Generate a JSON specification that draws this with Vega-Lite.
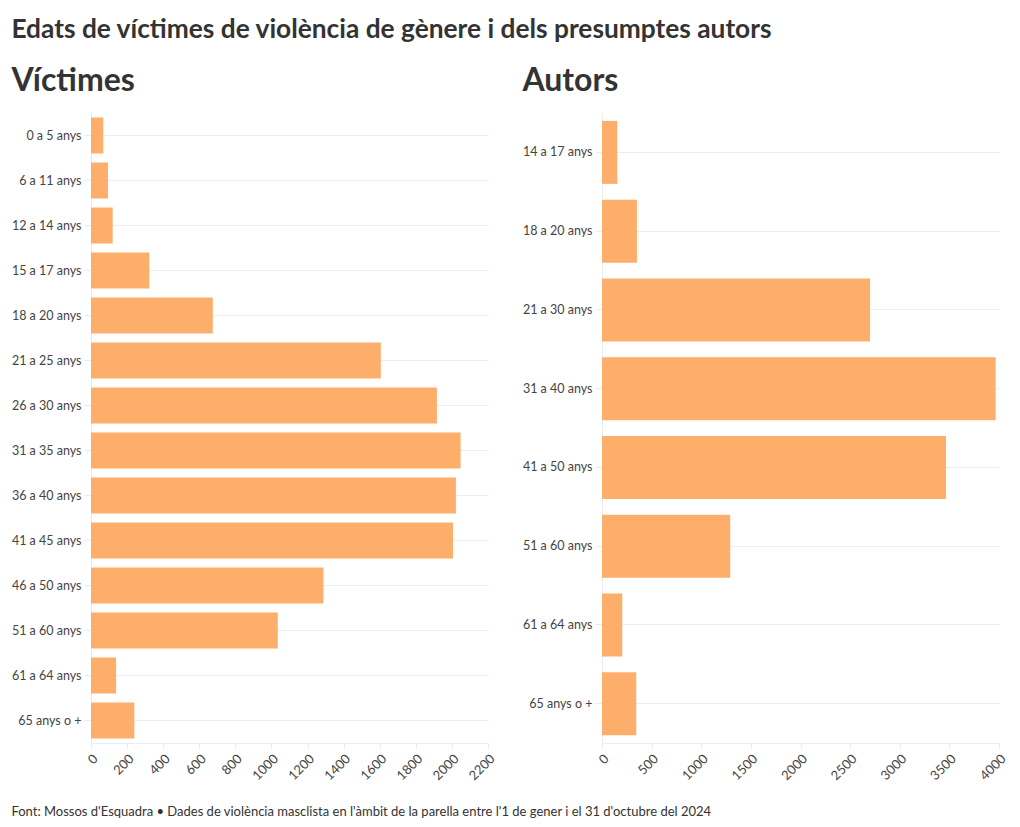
{
  "$schema": "https://vega.github.io/schema/vega-lite/v6.json",
  "background": "white",
  "padding": {"left": 11, "top": 16, "right": 10, "bottom": 8},
  "title": {
    "text": "Edats de víctimes de violència de gènere i dels presumptes autors",
    "anchor": "start",
    "frame": "bounds",
    "font": "Lato",
    "fontSize": 26.3,
    "fontWeight": "bold",
    "color": "#333333",
    "offset": 22
  },
  "datasets": {
    "victimes": [
      {"edat": "0 a 5 anys", "n": 68},
      {"edat": "6 a 11 anys", "n": 94},
      {"edat": "12 a 14 anys", "n": 120},
      {"edat": "15 a 17 anys", "n": 323},
      {"edat": "18 a 20 anys", "n": 675},
      {"edat": "21 a 25 anys", "n": 1606},
      {"edat": "26 a 30 anys", "n": 1917},
      {"edat": "31 a 35 anys", "n": 2048},
      {"edat": "36 a 40 anys", "n": 2022},
      {"edat": "41 a 45 anys", "n": 2006},
      {"edat": "46 a 50 anys", "n": 1288},
      {"edat": "51 a 60 anys", "n": 1035},
      {"edat": "61 a 64 anys", "n": 139},
      {"edat": "65 anys o +", "n": 240}
    ],
    "autors": [
      {"edat": "14 a 17 anys", "n": 154},
      {"edat": "18 a 20 anys", "n": 352},
      {"edat": "21 a 30 anys", "n": 2701},
      {"edat": "31 a 40 anys", "n": 3966},
      {"edat": "41 a 50 anys", "n": 3466},
      {"edat": "51 a 60 anys", "n": 1292},
      {"edat": "61 a 64 anys", "n": 204},
      {"edat": "65 anys o +", "n": 345}
    ]
  },
  "vconcat": [
    {
      "title": {
        "text": "Font: Mossos d'Esquadra • Dades de violència masclista en l'àmbit de la parella entre l'1 de gener i el 31 d'octubre del 2024",
        "orient": "bottom",
        "anchor": "start",
        "frame": "bounds",
        "font": "Lato",
        "fontSize": 13,
        "fontWeight": "normal",
        "color": "#333333",
        "offset": 23
      },
      "spacing": 24,
      "hconcat": [
        {
          "title": {"text": "Víctimes"},
          "data": {"name": "victimes"},
          "width": 397,
          "height": 630,
          "mark": {"type": "bar", "color": "#fdae6b"},
          "encoding": {
            "y": {"field": "edat", "type": "nominal", "sort": null, "title": null,
                  "scale": {"paddingInner": 0.2, "paddingOuter": 0.1}},
            "x": {"field": "n", "type": "quantitative", "title": null,
                  "scale": {"domain": [0, 2200]},
                  "axis": {"format": "d", "values": [0, 200, 400, 600, 800, 1000, 1200, 1400, 1600, 1800, 2000, 2200]}}
          }
        },
        {
          "title": {"text": "Autors"},
          "data": {"name": "autors"},
          "width": 397,
          "height": 630,
          "mark": {"type": "bar", "color": "#fdae6b"},
          "encoding": {
            "y": {"field": "edat", "type": "nominal", "sort": null, "title": null,
                  "scale": {"paddingInner": 0.2, "paddingOuter": 0.1}},
            "x": {"field": "n", "type": "quantitative", "title": null,
                  "scale": {"domain": [0, 4000]},
                  "axis": {"format": "d", "values": [0, 500, 1000, 1500, 2000, 2500, 3000, 3500, 4000]}}
          }
        }
      ]
    }
  ],
  "config": {
    "view": {"stroke": null},
    "font": "Lato",
    "title": {
      "anchor": "start",
      "frame": "bounds",
      "font": "Lato",
      "fontSize": 32,
      "fontWeight": "bold",
      "color": "#333333",
      "offset": 15
    },
    "axis": {
      "labelFont": "Lato",
      "labelColor": "#444444",
      "labelFontSize": 12.5,
      "domainColor": "#e6ecf2",
      "tickColor": "#e6ecf2",
      "gridColor": "#eeeeee"
    },
    "axisY": {"grid": true, "tickSize": 7, "labelPadding": 3, "domain": true},
    "axisX": {"grid": false, "labelAngle": -45, "tickSize": 5, "labelPadding": 4, "labelFontSize": 13}
  }
}
